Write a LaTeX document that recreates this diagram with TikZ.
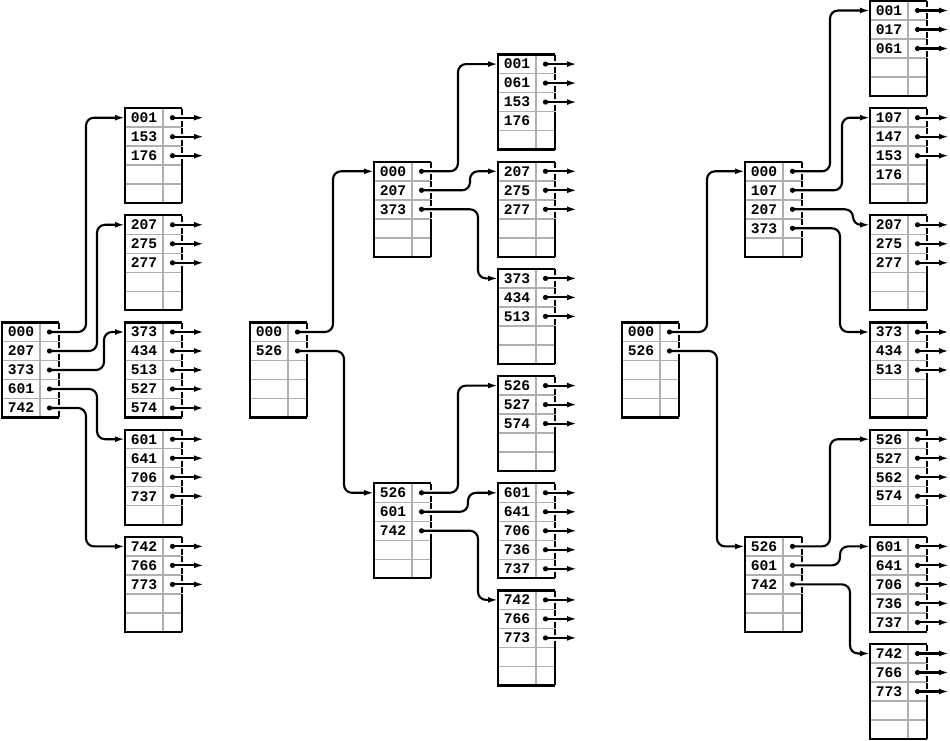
\documentclass[tikz,border=0pt]{standalone}
\usepackage{fontspec}
\setmonofont{Liberation Mono}
\usetikzlibrary{arrows.meta}
\definecolor{gridgray}{RGB}{175,175,175}
\tikzset{
  keytext/.style={font=\ttfamily\bfseries\fontsize{11}{12}\selectfont, inner sep=0pt, anchor=center},
  frame/.style={line width=1.7pt, black},
  gridline/.style={line width=1.1pt, gridgray},
  ptrseg/.style={line width=1.7pt, black},
  ptrdot/.style={fill=black, draw=none},
  tipstyle/.style={-{Latex[length=7.5pt,width=4.4pt]}},
  conn/.style={line width=1.6pt, rounded corners=6pt, tipstyle},
  leafarrow/.style={line width=1.6pt, tipstyle},
}
% #1 id, #2 x, #3 top, #4 list key/flag (0 none, 1 pointer, 2 pointer with outgoing arrow)
\newcommand{\blk}[4]{%
  \begin{scope}[shift={(#2,#3)}]
    \draw[gridline] (38,0) -- (38,95);
    \foreach \j in {1,...,4} \draw[gridline] (0,19*\j) -- (57,19*\j);
    \draw[frame] (57,0) -- (0,0) -- (0,95) -- (57,95);
    \foreach \k/\p [count=\i] in {#4} {
      \node[keytext] (#1-\i) at (19,19*\i-9.5) {\k};
      \coordinate (#1-\i-w) at (0,19*\i-9.5);
      \coordinate (#1-\i-d) at (47.5,19*\i-9.5);
      \ifnum\p>0
        \draw[ptrseg] (57,19*\i-18.5) -- (57,19*\i-12.5);
        \draw[ptrseg] (57,19*\i-6.5) -- (57,19*\i-0.5);
        \ifnum\p>1
          \coordinate (#1-\i-e) at (79,19*\i-9.5);
          \draw[leafarrow] (#1-\i-d) -- (#1-\i-e);
        \fi
        \fill[ptrdot] (#1-\i-d) circle (2.6);
      \else
        \draw[frame] (57,19*\i-19) -- (57,19*\i);
      \fi
    }
  \end{scope}
}
\begin{document}
\begin{tikzpicture}[x=0.75pt,y=-0.75pt]
\useasboundingbox (0,0) rectangle (950,741);
% ---------------- left tree
\blk{L0}{2}{322.5}{000/1,207/1,373/1,601/1,742/1}
\blk{LA}{125}{108.2}{001/2,153/2,176/2,{}/0,{}/0}
\blk{LB}{125}{215.3}{207/2,275/2,277/2,{}/0,{}/0}
\blk{LC}{125}{322.5}{373/2,434/2,513/2,527/2,574/2}
\blk{LD}{125}{429.7}{601/2,641/2,706/2,737/2,{}/0}
\blk{LE}{125}{536.9}{742/2,766/2,773/2,{}/0,{}/0}
\draw[conn] (L0-1-d) -- ++(36.5,0) |- (LA-1-w);
\draw[conn] (L0-2-d) -- ++(47.5,0) |- (LB-1-w);
\draw[conn] (L0-3-d) -- ++(54.5,0) |- (LC-1-w);
\draw[conn] (L0-4-d) -- ++(47.5,0) |- (LD-1-w);
\draw[conn] (L0-5-d) -- ++(36.5,0) |- (LE-1-w);
% ---------------- middle tree
\blk{M0}{250}{322.5}{000/1,526/1,{}/0,{}/0,{}/0}
\blk{M1}{374}{161.8}{000/1,207/1,373/1,{}/0,{}/0}
\blk{M2}{374}{483.3}{526/1,601/1,742/1,{}/0,{}/0}
\blk{MA}{498}{54.6}{001/2,061/2,153/2,176/0,{}/0}
\blk{MB}{498}{161.8}{207/2,275/2,277/2,{}/0,{}/0}
\blk{MC}{498}{268.9}{373/2,434/2,513/2,{}/0,{}/0}
\blk{MD}{498}{376.1}{526/2,527/2,574/2,{}/0,{}/0}
\blk{ME}{498}{483.3}{601/2,641/2,706/2,736/2,737/2}
\blk{MF}{498}{590.4}{742/2,766/2,773/2,{}/0,{}/0}
\draw[conn] (M0-1-d) -- ++(35.5,0) |- (M1-1-w);
\draw[conn] (M0-2-d) -- ++(46.5,0) |- (M2-1-w);
\draw[conn] (M1-1-d) -- ++(36.5,0) |- (MA-1-w);
\draw[conn] (M1-2-d) -- ++(48.5,0) |- (MB-1-w);
\draw[conn] (M1-3-d) -- ++(56.5,0) |- (MC-1-w);
\draw[conn] (M2-1-d) -- ++(36.5,0) |- (MD-1-w);
\draw[conn] (M2-2-d) -- ++(46.5,0) |- (ME-1-w);
\draw[conn] (M2-3-d) -- ++(56.5,0) |- (MF-1-w);
% ---------------- right tree
\blk{R0}{622}{322.5}{000/1,526/1,{}/0,{}/0,{}/0}
\blk{R1}{745}{161.8}{000/1,107/1,207/1,373/1,{}/0}
\blk{R2}{745}{536.9}{526/1,601/1,742/1,{}/0,{}/0}
\blk{RA}{870}{1}{001/2,017/2,061/2,{}/0,{}/0}
\blk{RB}{870}{108.2}{107/2,147/2,153/2,176/0,{}/0}
\blk{RC}{870}{215.3}{207/2,275/2,277/2,{}/0,{}/0}
\blk{RD}{870}{322.5}{373/2,434/2,513/2,{}/0,{}/0}
\blk{RE}{870}{429.7}{526/2,527/2,562/2,574/2,{}/0}
\blk{RF}{870}{536.9}{601/2,641/2,706/2,736/2,737/2}
\blk{RG}{870}{644}{742/2,766/2,773/2,{}/0,{}/0}
\draw[conn] (R0-1-d) -- ++(37.5,0) |- (R1-1-w);
\draw[conn] (R0-2-d) -- ++(47.5,0) |- (R2-1-w);
\draw[conn] (R1-1-d) -- ++(37.5,0) |- (RA-1-w);
\draw[conn] (R1-2-d) -- ++(49.5,0) |- (RB-1-w);
\draw[conn] (R1-3-d) -- ++(60.5,0) |- (RC-1-w);
\draw[conn] (R1-4-d) -- ++(47.5,0) |- (RD-1-w);
\draw[conn] (R2-1-d) -- ++(37.5,0) |- (RE-1-w);
\draw[conn] (R2-2-d) -- ++(47.5,0) |- (RF-1-w);
\draw[conn] (R2-3-d) -- ++(57.5,0) |- (RG-1-w);
\end{tikzpicture}
\end{document}
